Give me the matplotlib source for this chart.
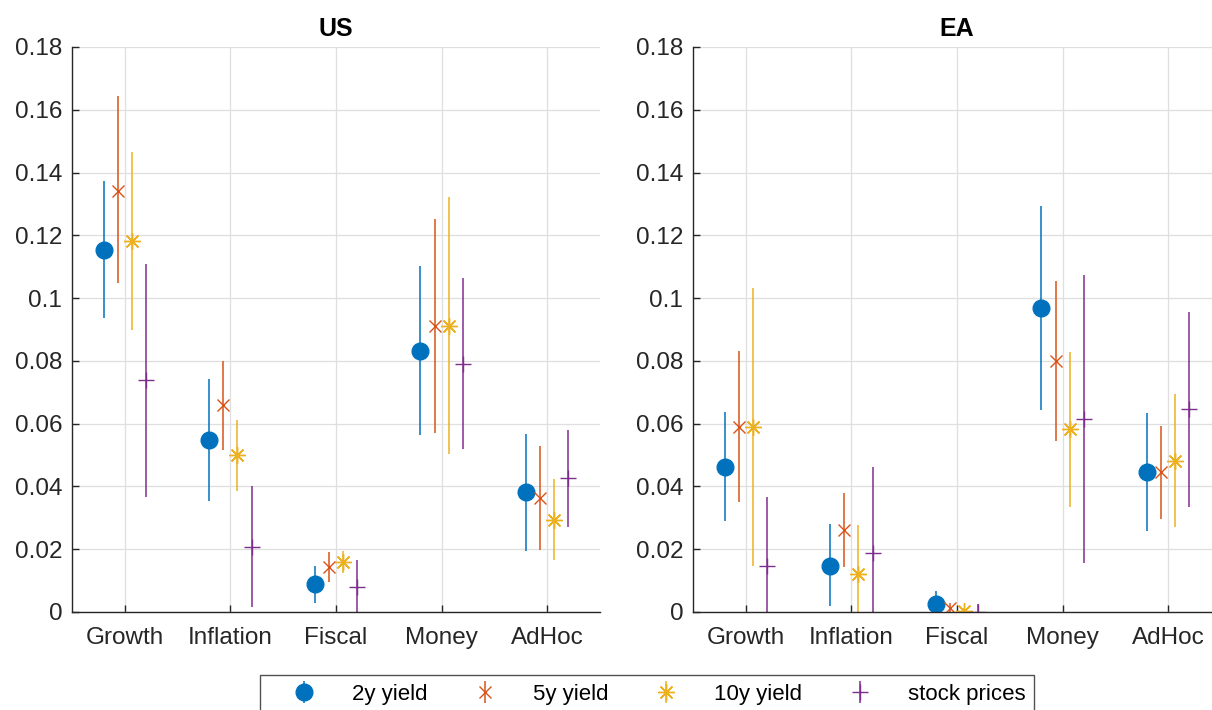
import numpy as np
import matplotlib
matplotlib.use("Agg")
import matplotlib.pyplot as plt
from matplotlib.ticker import FixedLocator

plt.rcParams['font.family'] = ['Liberation Sans', 'DejaVu Sans']

categories = ["Growth", "Inflation", "Fiscal", "Money", "AdHoc"]
series = ["2y yield", "5y yield", "10y yield", "stock prices"]

# US: point estimates, lower and upper bounds per series (rows) and category (cols)
us_mid = [
    [0.1154, 0.0548, 0.0088, 0.0831, 0.0382],
    [0.1342, 0.0658, 0.0142, 0.0911, 0.0363],
    [0.1181, 0.0499, 0.0159, 0.0911, 0.0294],
    [0.0740, 0.0208, 0.0079, 0.0791, 0.0427],
]
us_lo = [
    [0.0937, 0.0354, 0.0030, 0.0563, 0.0194],
    [0.1047, 0.0517, 0.0095, 0.0570, 0.0196],
    [0.0899, 0.0384, 0.0125, 0.0502, 0.0165],
    [0.0367, 0.0016, -0.0010, 0.0519, 0.0271],
]
us_hi = [
    [0.1372, 0.0742, 0.0148, 0.1101, 0.0568],
    [0.1644, 0.0800, 0.0190, 0.1251, 0.0528],
    [0.1465, 0.0612, 0.0195, 0.1322, 0.0423],
    [0.1110, 0.0400, 0.0165, 0.1063, 0.0581],
]

# EA
ea_mid = [
    [0.0463, 0.0148, 0.0024, 0.0967, 0.0446],
    [0.0589, 0.0261, 0.0014, 0.0800, 0.0445],
    [0.0589, 0.0120, 0.0002, 0.0582, 0.0482],
    [0.0148, 0.0187, 0.0001, 0.0616, 0.0646],
]
ea_lo = [
    [0.0290, 0.0019, -0.0005, 0.0642, 0.0258],
    [0.0349, 0.0142, -0.0010, 0.0546, 0.0295],
    [0.0145, -0.0020, -0.0010, 0.0336, 0.0272],
    [-0.0050, -0.0050, -0.0020, 0.0155, 0.0334],
]
ea_hi = [
    [0.0637, 0.0279, 0.0067, 0.1292, 0.0633],
    [0.0830, 0.0378, 0.0030, 0.1055, 0.0594],
    [0.1032, 0.0277, 0.0012, 0.0828, 0.0695],
    [0.0365, 0.0463, 0.0025, 0.1074, 0.0956],
]

yticks = [0, 0.02, 0.04, 0.06, 0.08, 0.1, 0.12, 0.14, 0.16, 0.18]
ytick_labels = ["0", "0.02", "0.04", "0.06", "0.08", "0.1", "0.12", "0.14", "0.16", "0.18"]

colors = ["#0072BD", "#D95319", "#EDB120", "#7E2F8E"]
offsets = [-0.2, -0.0667, 0.0667, 0.2]
marker_styles = [
    dict(marker='o', markersize=12, markerfacecolor=colors[0], markeredgecolor=colors[0]),
    dict(marker='x', markersize=9, markeredgewidth=1.0),
    dict(marker=(8, 2, 0), markersize=12, markeredgewidth=1.0),
    dict(marker='+', markersize=12, markeredgewidth=1.0),
]

W, H = 1212, 710
fig = plt.figure(figsize=(W / 100, H / 100), dpi=100)
ax_w = 528 / W
ax_h = 565 / H
ax_b = (H - 612) / H
axes = [fig.add_axes([72 / W, ax_b, ax_w, ax_h]),
        fig.add_axes([693 / W, ax_b, ax_w, ax_h])]

panels = [("US", us_mid, us_lo, us_hi), ("EA", ea_mid, ea_lo, ea_hi)]
x = np.arange(1, len(categories) + 1)
handles = []
for ax, (title, mid, lo, hi) in zip(axes, panels):
    for i in range(len(series)):
        m = np.array(mid[i]); l = np.array(lo[i]); h = np.array(hi[i])
        eb = ax.errorbar(x + offsets[i], m, yerr=[m - l, h - m], linestyle='none',
                         color=colors[i], ecolor=colors[i], elinewidth=1.1, capsize=0,
                         label=series[i], clip_on=True, **marker_styles[i])
        if ax is axes[0]:
            handles.append(eb)
    ax.set_xlim(0.5, 5.5)
    ax.set_ylim(0, 0.18)
    ax.set_xticks(x)
    ax.set_xticklabels(categories)
    ax.yaxis.set_major_locator(FixedLocator(yticks))
    ax.set_yticklabels(ytick_labels)
    ax.grid(True, color='#dfdfdf', linewidth=0.9)
    ax.set_axisbelow(True)
    for s in ['top', 'right']:
        ax.spines[s].set_visible(False)
    for s in ['left', 'bottom']:
        ax.spines[s].set_color('#262626')
        ax.spines[s].set_linewidth(1.0)
    ax.tick_params(direction='in', length=5, width=1.0, colors='#262626',
                   labelsize=17.5, labelcolor='#262626', pad=7)
    ax.tick_params(axis='x', pad=11)
    ax.set_title(title, fontsize=18, fontweight='bold', pad=8, color='black')

leg = fig.legend(handles=handles, labels=series, ncol=4, loc='upper center',
                 bbox_to_anchor=(647 / W, 1 - 675 / H), borderaxespad=0,
                 fontsize=16,
                 frameon=True, fancybox=False, edgecolor='#262626',
                 handlelength=3.2, handletextpad=0.55, columnspacing=1.0,
                 borderpad=0.4)
leg.get_frame().set_linewidth(1.0)

fig.savefig("out.png", dpi=100)
